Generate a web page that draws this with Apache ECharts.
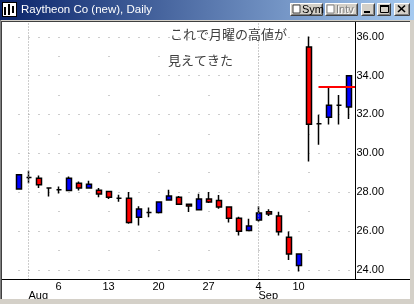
<!DOCTYPE html>
<html><head><meta charset="utf-8">
<script src="https://cdn.jsdelivr.net/npm/echarts@6/dist/echarts.min.js"></script>
<style>html,body{margin:0;padding:0;background:#ffffff}#c{width:414px;height:304px}</style>
</head><body><div id="c"></div>
<script>
// ---- data ----
const dates = ['7/31','8/1','8/2','8/3','8/6','8/7','8/8','8/9','8/10','8/13','8/14','8/15','8/16','8/17',
  '8/20','8/21','8/22','8/23','8/24','8/27','8/28','8/29','8/30','8/31','9/4','9/5','9/6','9/7','9/10',
  '9/17','9/18','9/19','9/20','9/21'];
const openV  = [28.16,28.75,28.72,28.21,28.12,28.08,28.46,28.21,28.10,28.03,27.68,27.69,26.71,26.95,
  26.95,27.59,27.74,27.38,27.09,27.64,27.57,27.23,26.66,26.02,26.56,26.99,26.77,25.68,24.22,
  35.47,31.52,31.86,32.48,32.38];
const closeV = [28.90,28.75,28.38,28.21,28.12,28.72,28.21,28.41,27.90,27.74,27.68,26.44,27.13,26.95,
  27.49,27.80,27.38,27.28,27.64,27.49,27.23,26.66,25.99,26.25,26.92,26.87,25.96,24.81,24.81,
  31.50,31.52,32.48,32.48,33.99];
const lowV   = [28.16,28.46,28.21,27.78,27.93,28.04,28.08,28.21,27.74,27.64,27.50,26.37,26.28,26.71,
  26.90,27.59,27.38,26.97,27.06,27.44,27.15,26.44,25.77,26.02,26.47,26.77,25.77,24.50,23.91,
  29.58,30.44,31.48,31.48,31.76];
const highV  = [28.93,29.10,28.86,28.25,28.29,28.80,28.55,28.58,28.21,28.05,27.86,28.00,27.27,27.21,
  27.49,28.12,27.80,27.38,27.91,28.00,27.85,27.23,26.73,26.63,27.27,27.12,26.99,25.97,24.81,
  36.01,31.98,33.44,33.00,33.99];
const dayTickDates   = ['8/6','8/13','8/20','8/27','9/4','9/10'];
const dayTickLabels  = ['6','13','20','27','4','10'];
const monthStartDates = ['8/1','9/4'];
const monthLabels     = ['Aug','Sep'];
const markStartDate = '9/18';
const markEndDate = '9/21';
const markLevel = 33.44;
const titleText = 'Raytheon Co (new), Daily';
const noteLines = ['これで月曜の高値が', '見えてきた'];

const candles = dates.map((d, i) => [openV[i], closeV[i], lowV[i], highV[i]]);

function button(x, y, w, h) {
  return [
    {type:'rect', shape:{x:x, y:y, width:w, height:h}, style:{fill:'#d4d0c8'}},
    {type:'polyline', shape:{points:[[x+0.5,y+h-0.5],[x+0.5,y+0.5],[x+w-0.5,y+0.5]]}, style:{stroke:'#ffffff', lineWidth:1, fill:null}},
    {type:'polyline', shape:{points:[[x+0.5,y+h-0.5],[x+w-0.5,y+h-0.5],[x+w-0.5,y+0.5]]}, style:{stroke:'#404040', lineWidth:1, fill:null}},
    {type:'polyline', shape:{points:[[x+1.5,y+h-1.5],[x+w-1.5,y+h-1.5],[x+w-1.5,y+1.5]]}, style:{stroke:'#808080', lineWidth:1, fill:null}}
  ];
}

const graphics = [].concat(
  [
    {type:'rect', shape:{x:0,y:0,width:414,height:20}, style:{fill:new echarts.graphic.LinearGradient(0,0,1,0,[{offset:0,color:'#0a246a'},{offset:1,color:'#a6caf0'}])}},
    {type:'rect', shape:{x:0,y:20,width:414,height:1}, style:{fill:'#d4d0c8'}},
    {type:'rect', shape:{x:0,y:21,width:410,height:1}, style:{fill:'#404040'}},
    {type:'rect', shape:{x:0,y:20,width:1,height:284}, style:{fill:'#808080'}},
    {type:'rect', shape:{x:1,y:21,width:1,height:283}, style:{fill:'#404040'}},
    {type:'rect', shape:{x:410,y:20,width:4,height:284}, style:{fill:'#d4d0c8'}},
    {type:'rect', shape:{x:0,y:299,width:414,height:5}, style:{fill:'#d4d0c8'}},
    {type:'line', shape:{x1:2,y1:279.5,x2:410,y2:279.5}, style:{stroke:'#000',lineWidth:1}},
    // icon
    {type:'rect', shape:{x:2,y:2,width:15,height:15}, style:{fill:'#000'}},
    {type:'rect', shape:{x:3,y:3,width:13,height:13}, style:{fill:'#fff'}},
    {type:'rect', shape:{x:4,y:7,width:2,height:8}, style:{fill:'#000'}},
    {type:'rect', shape:{x:8,y:4,width:2,height:11}, style:{fill:'#000'}},
    {type:'rect', shape:{x:12,y:6,width:2,height:7}, style:{fill:'#000'}},
    {type:'text', style:{x:21, y:10, text:titleText, fill:'#ffffff', font:'11.5px "Liberation Sans", Arial, sans-serif', verticalAlign:'middle'}}
  ],
  button(290,3,33,13), button(325,3,33,13), button(361,3,14,13), button(377,3,14,13), button(394,3,16,13),
  [
    {type:'rect', shape:{x:293,y:5,width:7,height:8}, style:{fill:'#ffffff', stroke:'#404040', lineWidth:1}},
    {type:'text', style:{x:302, y:10, text:'Sym', fill:'#000', font:'11px "Liberation Sans", Arial, sans-serif', verticalAlign:'middle'}},
    {type:'rect', shape:{x:327,y:5,width:7,height:8}, style:{fill:'#ffffff', stroke:'#808080', lineWidth:1}},
    {type:'text', style:{x:337, y:11, text:'Intv', fill:'#ffffff', font:'11px "Liberation Sans", Arial, sans-serif', verticalAlign:'middle'}},
    {type:'text', style:{x:336, y:10, text:'Intv', fill:'#808080', font:'11px "Liberation Sans", Arial, sans-serif', verticalAlign:'middle'}},
    {type:'rect', shape:{x:364,y:11,width:6,height:2}, style:{fill:'#000'}},
    {type:'rect', shape:{x:380.5,y:5.5,width:8,height:7}, style:{fill:null, stroke:'#000', lineWidth:1}},
    {type:'rect', shape:{x:380,y:5,width:9,height:2}, style:{fill:'#000'}},
    {type:'line', shape:{x1:398,y1:5.5,x2:405,y2:12}, style:{stroke:'#000', lineWidth:1.6}},
    {type:'line', shape:{x1:405,y1:5.5,x2:398,y2:12}, style:{stroke:'#000', lineWidth:1.6}},
    {type:'text', style:{x:170, y:34, text:noteLines[0], fill:'#404040', font:'13px "Noto Sans CJK JP", sans-serif', verticalAlign:'middle'}},
    {type:'text', style:{x:168, y:60, text:noteLines[1], fill:'#404040', font:'13px "Noto Sans CJK JP", sans-serif', verticalAlign:'middle'}}
  ]
).map(e => Object.assign({z: 100}, e));

const chart = echarts.init(document.getElementById('c'), null, {renderer:'canvas'});
chart.setOption({
  animation: false,
  backgroundColor: '#ffffff',
  graphic: {elements: graphics},
  grid: {left: 13.5, right: 60.5, top: 17.37, bottom: 24.5, containLabel: false, outerBoundsMode: 'none'},
  xAxis: [
    {type:'category', data: dates, boundaryGap: true, position:'bottom',
     axisLine:{show:true, lineStyle:{color:'#000'}}, axisTick:{show:false}, splitLine:{show:false},
     axisLabel:{interval:(i, v) => dayTickDates.indexOf(v) >= 0,
       formatter:(v) => { const k = dayTickDates.indexOf(v); return k >= 0 ? dayTickLabels[k] : ''; },
       color:'#000', fontSize:11, fontFamily:'"Liberation Sans", Arial, sans-serif', margin:2}},
    {type:'category', data: dates, boundaryGap: true, position:'bottom',
     axisLine:{show:false}, axisTick:{show:false}, splitLine:{show:false},
     axisLabel:{interval:(i, v) => monthStartDates.indexOf(v) >= 0,
       formatter:(v) => { const k = monthStartDates.indexOf(v); return k >= 0 ? monthLabels[k] : ''; },
       align:'left', color:'#000', fontSize:11, fontFamily:'"Liberation Sans", Arial, sans-serif', margin:11}}
  ],
  yAxis: [
    {type:'value', position:'right', offset:2, min:23.5, max:37, interval:0.5, scale:true,
     axisLine:{show:true, lineStyle:{color:'#000'}}, axisTick:{show:false},
     axisLabel:{margin:1, color:'#000', fontSize:11, fontFamily:'"Liberation Sans", Arial, sans-serif',
       formatter:(v) => (Math.abs(v/2 - Math.round(v/2)) < 1e-6 ? v.toFixed(2) : '')},
     splitLine:{show:true, lineStyle:{color:['transparent','#9a9a9a','transparent','transparent'], width:1, type:[1,9], dashOffset:5}}},
    {type:'value', position:'left', min:23.5, max:37, interval:0.5, scale:true,
     axisLine:{show:false}, axisTick:{show:false}, axisLabel:{show:false},
     splitLine:{show:true, lineStyle:{color:['transparent','transparent','transparent','#9a9a9a'], width:1, type:[1,49], dashOffset:5}}}
  ],
  series: [{
    type:'candlestick', xAxisIndex:0, yAxisIndex:0, data: candles, barWidth: 5.5,
    itemStyle:{color:'#0000ff', color0:'#ff0000', borderColor:'#000', borderColor0:'#000', borderColorDoji:'#000', borderWidth:1.5},
    markLine:{silent:true, symbol:['none','none'], label:{show:false},
      data:[
        {xAxis: monthStartDates[0], lineStyle:{color:'#9a9a9a', type:[1,2], width:1}},
        {xAxis: monthStartDates[1], lineStyle:{color:'#9a9a9a', type:[1,2], width:1}},
        [{coord:[markStartDate, markLevel], lineStyle:{color:'#ff0000', width:2, type:'solid'}},
         {coord:[markEndDate, markLevel], x: 355}]
      ]}
  }]
});
</script></body></html>
